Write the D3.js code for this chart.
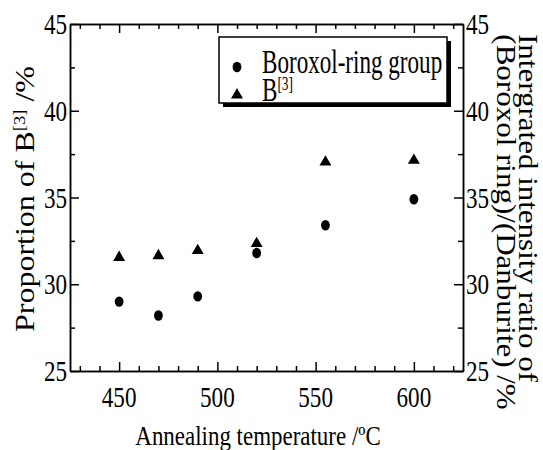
<!DOCTYPE html>
<meta charset="utf-8">
<script src="https://d3js.org/d3.v7.min.js"></script>
<style>
  body { margin: 0; background: #fff; }
  text { font-family: "Liberation Serif", "Times New Roman", serif; fill: #000; }
  .axis path, .axis line { stroke: #000; stroke-width: 1.5; }
</style>
<body>
</body>
<script>

// data
var temps   = [450, 470, 490, 520, 555, 600];
var boroxol = [29.0, 28.2, 29.3, 31.8, 33.4, 34.9];
var b3      = [31.6, 31.7, 32.0, 32.4, 37.1, 37.2];

var xMajor = [450, 500, 550, 600];
var xMinor = [430, 440, 460, 470, 480, 490, 510, 520, 530, 540, 560, 570, 580, 590, 610, 620];
var yMajor = [25, 30, 35, 40, 45];
var yMinor = [27.5, 32.5, 37.5, 42.5];

var width = 543, height = 450;
var plot = {left: 70, right: 463, top: 24, bottom: 371};

var svg = d3.select("body").append("svg")
    .attr("width", width)
    .attr("height", height);

var x = d3.scaleLinear().domain([425, 625]).range([plot.left, plot.right]);
var y = d3.scaleLinear().domain([25, 45]).range([plot.bottom, plot.top]);

// axes: all ticks point inwards, labels drawn separately
function frame(axisFn, scale, ticks, size, tx, ty) {
    svg.append("g")
        .attr("class", "axis")
        .attr("transform", "translate(" + tx + "," + ty + ")")
        .call(axisFn(scale).tickValues(ticks).tickSize(-size).tickSizeOuter(0).tickFormat(""));
}
frame(d3.axisBottom, x, xMajor, 9, 0, plot.bottom);
frame(d3.axisBottom, x, xMinor, 5, 0, plot.bottom);
frame(d3.axisTop, x, xMajor, 9, 0, plot.top);
frame(d3.axisTop, x, xMinor, 5, 0, plot.top);
frame(d3.axisLeft, y, yMajor, 9, plot.left, 0);
frame(d3.axisLeft, y, yMinor, 5, plot.left, 0);
frame(d3.axisRight, y, yMajor, 9, plot.right, 0);
frame(d3.axisRight, y, yMinor, 5, plot.right, 0);

// the original text is squeezed sideways, sq is that factor
function label(px, py, size, anchor, sq, rot) {
    var t = "translate(" + px + "," + py + ") scale(" + sq + ",1)";
    if (rot) t += " rotate(" + rot + ")";
    return svg.append("text")
        .attr("transform", t)
        .attr("font-size", size)
        .attr("text-anchor", anchor);
}
function sup(txt, size, base, rest) {
    txt.append("tspan").text(base);
    txt.append("tspan").attr("font-size", size * 0.58).attr("dy", -size * 0.32).text("[3]");
    if (rest) txt.append("tspan").attr("dy", size * 0.32).text(rest);
}

var fs = 30, sqTick = 0.77;

xMajor.forEach(function(d) {
    label(x(d), 407, fs, "middle", sqTick).text(d);
});
yMajor.forEach(function(d) {
    label(plot.left - 3, y(d) + 10, fs, "end", sqTick).text(d);
    label(plot.right + 3, y(d) + 10, fs, "start", sqTick).text(d);
});

label(258, 445, 27, "middle", 0.85).text("Annealing temperature /ºC");

sup(label(34, 199, 32, "middle", 0.86, -90), 32, "Proportion of B", "  /%");
label(519, 208, 31, "middle", 0.86, 90).text("Intergrated intensity ratio of");
label(497, 222, 31, "middle", 0.86, 90).text("(Boroxol ring)/(Danburite) /%");

// points
var tri = d3.symbol().type(d3.symbolTriangle).size(62);

svg.selectAll(".dot")
    .data(temps)
    .enter()
    .append("ellipse")
    .attr("class", "dot")
    .attr("cx", function(d) { return x(d); })
    .attr("cy", function(d, i) { return y(boroxol[i]); })
    .attr("rx", 4.4)
    .attr("ry", 5.2)
    .style("fill", "#000");

svg.selectAll(".tri")
    .data(temps)
    .enter()
    .append("path")
    .attr("class", "tri")
    .attr("d", tri)
    .attr("transform", function(d, i) { return "translate(" + x(d) + "," + (y(b3[i]) + 1) + ")"; })
    .style("fill", "#000");

// legend with drop shadow
var lg = {x: 219, y: 37, w: 228, h: 66};
svg.append("rect")
    .attr("x", lg.x + 4).attr("y", lg.y + 4)
    .attr("width", lg.w).attr("height", lg.h)
    .style("fill", "#000");
svg.append("rect")
    .attr("x", lg.x).attr("y", lg.y)
    .attr("width", lg.w).attr("height", lg.h)
    .style("fill", "#fff").style("stroke", "#000").style("stroke-width", 1.5);

svg.append("ellipse")
    .attr("cx", lg.x + 18).attr("cy", lg.y + 30)
    .attr("rx", 4.4).attr("ry", 5.2)
    .style("fill", "#000");
svg.append("path")
    .attr("d", tri)
    .attr("transform", "translate(" + (lg.x + 18) + "," + (lg.y + 58) + ")")
    .style("fill", "#000");

label(lg.x + 43, lg.y + 36, 33, "start", 0.7).text("Boroxol-ring group");
sup(label(lg.x + 43, lg.y + 64, 33, "start", 0.7), 33, "B");

</script>
